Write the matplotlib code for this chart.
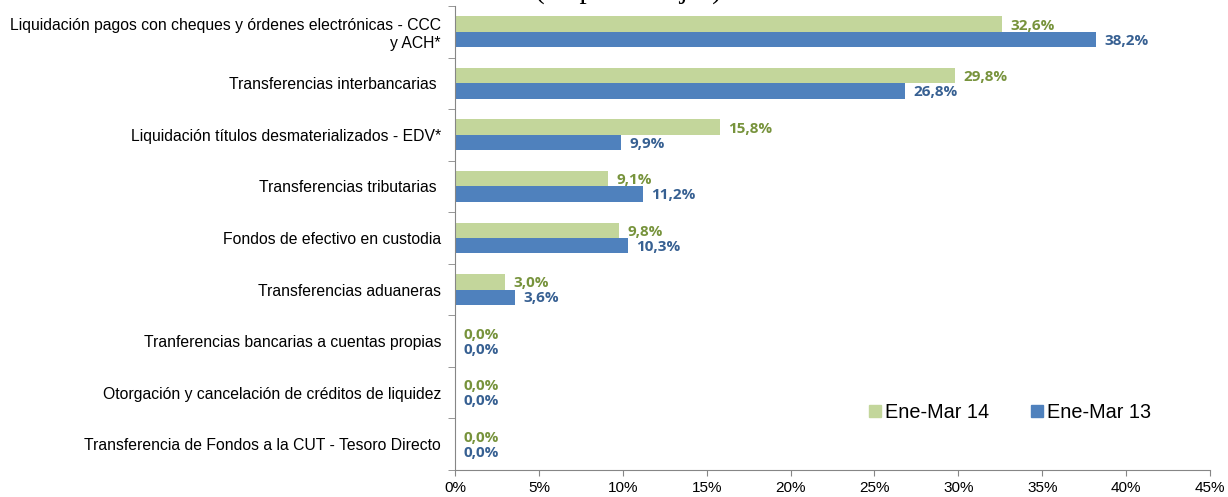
import numpy as np
import matplotlib
matplotlib.use("Agg")
import matplotlib.pyplot as plt
from matplotlib.patches import Patch

categories = [
    "Liquidación pagos con cheques y órdenes electrónicas - CCC\ny ACH*",
    "Transferencias interbancarias ",
    "Liquidación títulos desmaterializados - EDV*",
    "Transferencias tributarias ",
    "Fondos de efectivo en custodia",
    "Transferencias aduaneras",
    "Tranferencias bancarias a cuentas propias",
    "Otorgación y cancelación de créditos de liquidez",
    "Transferencia de Fondos a la CUT - Tesoro Directo",
]
ene_mar_14 = [32.6, 29.8, 15.8, 9.1, 9.8, 3.0, 0.0, 0.0, 0.0]
ene_mar_13 = [38.2, 26.8, 9.9, 11.2, 10.3, 3.6, 0.0, 0.0, 0.0]
series_names = ["Ene-Mar 14", "Ene-Mar 13"]
x_ticks = [0, 5, 10, 15, 20, 25, 30, 35, 40, 45]

green, blue = "#C3D69B", "#4F81BD"
green_txt, blue_txt = "#77933C", "#376092"
axis_col = "#868686"

fig = plt.figure(figsize=(12.28, 4.97), dpi=100)
ax = fig.add_axes([455 / 1228, 1 - 470 / 497, 755 / 1228, 464 / 497])

y = np.arange(len(categories))
h = 0.3
ax.barh(y - h / 2, ene_mar_14, height=h, color=green)
ax.barh(y + h / 2, ene_mar_13, height=h, color=blue)

# data labels right of each bar
for yi, v in zip(y, ene_mar_14):
    ax.annotate(f"{v:.1f}%".replace(".", ","), (v, yi - h / 2 + 0.03), xytext=(6, 0),
                textcoords="offset points", va="center", ha="left",
                fontsize=11, fontweight="bold", color=green_txt, family="Open Sans")
for yi, v in zip(y, ene_mar_13):
    ax.annotate(f"{v:.1f}%".replace(".", ","), (v, yi + h / 2 + 0.02), xytext=(6, 0),
                textcoords="offset points", va="center", ha="left",
                fontsize=11, fontweight="bold", color=blue_txt, family="Open Sans")

ax.set_ylim(len(categories) - 0.5, -0.5)
ax.set_xlim(0, 45)
ax.set_yticks(y)
ax.set_yticklabels(categories, family="Liberation Sans", fontsize=11.3, ha="right",
                   multialignment="right")
ax.tick_params(axis="y", which="major", length=0, pad=10)
ax.set_yticks(np.arange(-0.5, len(categories), 1), minor=True)
ax.tick_params(axis="y", which="minor", length=5, color=axis_col, direction="out")

ax.set_xticks(x_ticks)
ax.set_xticklabels([f"{t}%" for t in x_ticks], family="Liberation Sans", fontsize=11)
ax.tick_params(axis="x", length=4, color=axis_col, pad=4)

for s in ["top", "right"]:
    ax.spines[s].set_visible(False)
for s in ["left", "bottom"]:
    ax.spines[s].set_color(axis_col)

handles = [Patch(color=green), Patch(color=blue)]
ax.legend(handles, series_names, loc="lower left", bbox_to_anchor=(869 / 1228, 1 - 422 / 497),
          bbox_transform=fig.transFigure, ncol=2, frameon=False,
          prop={"family": "Liberation Sans", "size": 14.3},
          handlelength=0.6, handleheight=0.6, handletextpad=0.2, columnspacing=2.1,
          borderpad=0, borderaxespad=0)

# title sits mostly above the image edge, as in the source
fig.text(628 / 1228, 1 + 2 / 497, "(en porcentajes)", ha="center", va="baseline",
         fontsize=21, family="Liberation Serif")

fig.savefig("out.png", dpi=100)
